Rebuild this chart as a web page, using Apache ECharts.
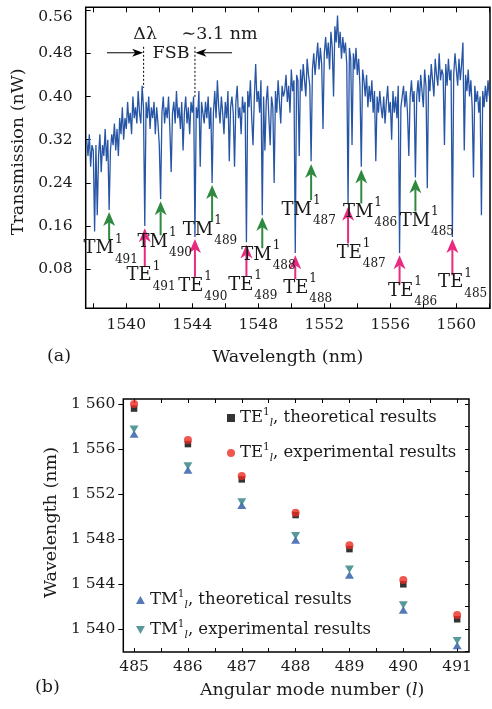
<!DOCTYPE html>
<html><head><meta charset="utf-8">
<script src="https://cdn.jsdelivr.net/npm/echarts@6/dist/echarts.min.js"></script>
<style>html,body{margin:0;padding:0;background:#fff}#c{width:492px;height:709px}</style>
</head><body><div id="c"></div>
<script>
// ================= DATA =================
// (a) transmission spectrum, sampled every 0.08 nm from 1537.60 nm
const specStart = 1537.60;
const specStep = 0.08;
const specValues = [
  0.32,0.29,0.33,0.27,0.31,0.30,0.15,0.31,0.18,0.29,
  0.33,0.26,0.31,0.29,0.34,0.28,0.32,0.19,0.30,0.33,
  0.31,0.35,0.30,0.34,0.29,0.36,0.33,0.38,0.32,0.36,
  0.34,0.39,0.35,0.37,0.33,0.40,0.36,0.38,0.35,0.41,
  0.37,0.35,0.42,0.38,0.16,0.39,0.36,0.40,0.34,0.38,
  0.36,0.39,0.33,0.38,0.35,0.31,0.21,0.37,0.40,0.35,
  0.38,0.36,0.40,0.34,0.26,0.37,0.39,0.35,0.41,0.36,
  0.38,0.34,0.39,0.30,0.37,0.40,0.35,0.38,0.33,0.39,
  0.37,0.40,0.14,0.38,0.36,0.41,0.27,0.39,0.37,0.35,
  0.39,0.36,0.40,0.34,0.38,0.24,0.37,0.41,0.36,0.43,
  0.38,0.35,0.40,0.37,0.33,0.39,0.36,0.41,0.28,0.38,
  0.40,0.37,0.27,0.39,0.42,0.36,0.38,0.33,0.40,0.37,
  0.39,0.13,0.41,0.38,0.43,0.36,0.31,0.40,0.46,0.39,
  0.41,0.37,0.43,0.18,0.40,0.30,0.39,0.42,0.36,0.31,
  0.40,0.38,0.24,0.41,0.37,0.43,0.39,0.35,0.42,0.40,
  0.41,0.44,0.39,0.42,0.37,0.45,0.41,0.43,0.11,0.44,
  0.43,0.29,0.45,0.41,0.46,0.43,0.40,0.47,0.44,0.42,
  0.28,0.45,0.48,0.44,0.47,0.50,0.45,0.49,0.46,0.34,
  0.48,0.51,0.47,0.50,0.45,0.52,0.49,0.40,0.53,0.50,
  0.55,0.49,0.52,0.47,0.51,0.48,0.50,0.46,0.20,0.49,
  0.47,0.31,0.48,0.45,0.49,0.44,0.47,0.42,0.27,0.45,
  0.43,0.40,0.44,0.38,0.42,0.39,0.43,0.37,0.41,0.28,
  0.40,0.37,0.41,0.38,0.36,0.40,0.35,0.39,0.42,0.37,
  0.39,0.32,0.41,0.37,0.40,0.36,0.42,0.11,0.38,0.40,
  0.42,0.38,0.41,0.37,0.29,0.40,0.43,0.39,0.41,0.25,
  0.40,0.43,0.39,0.44,0.41,0.38,0.45,0.42,0.23,0.44,
  0.41,0.46,0.43,0.40,0.47,0.44,0.42,0.48,0.43,0.45,
  0.44,0.31,0.46,0.42,0.47,0.43,0.45,0.14,0.44,0.48,
  0.45,0.42,0.47,0.43,0.46,0.50,0.30,0.44,0.41,0.45,
  0.40,0.43,0.38,0.25,0.42,0.39,0.41,0.37,0.40,0.18,
  0.41,0.38,0.42,0.39,0.43,0.40
];
const xTicksA = [1540, 1544, 1548, 1552, 1556, 1560];
const yTicksA = [0.08, 0.16, 0.24, 0.32, 0.40, 0.48, 0.56];

// resonance dips marked in (a), mode order 485..491
const modeNumbers = [485, 486, 487, 488, 489, 490, 491];
const teDipNm = [1559.76, 1556.56, 1553.44, 1550.24, 1547.28, 1544.16, 1541.12];
const tmDipNm = [1557.52, 1554.24, 1551.20, 1548.24, 1545.20, 1542.08, 1538.96];
const fsbEndsNm = [1541.05, 1544.16];
const fsbText = '\u223C3.1 nm';

// (b) resonance wavelength vs angular mode number
const xTicksB = [485, 486, 487, 488, 489, 490, 491];
const yTicksB = [1540, 1544, 1548, 1552, 1556, 1560];
const teTheory = [1559.60, 1556.44, 1553.30, 1550.13, 1547.10, 1543.97, 1540.86];
const teExp    = [1560.00, 1556.80, 1553.60, 1550.34, 1547.45, 1544.36, 1541.24];
const tmTheory = [1557.33, 1554.13, 1551.00, 1547.90, 1544.80, 1541.69, 1538.52];
const tmExp    = [1557.75, 1554.49, 1551.30, 1548.29, 1545.30, 1542.13, 1538.96];

// ================= LAYOUT (annotation placement, not data) =================
// per mode 485..491: [arrow tip value, arrow tail value, label anchor nm, label anchor value]
const tmNoteLayout = [
  [0.247, 0.187, 1558.41, 0.169],
  [0.265, 0.202, 1554.97, 0.186],
  [0.275, 0.208, 1551.25, 0.190],
  [0.177, 0.119, 1548.81, 0.106],
  [0.236, 0.168, 1545.27, 0.153],
  [0.206, 0.143, 1542.53, 0.130],
  [0.186, 0.134, 1539.25, 0.118]
];
const teNoteLayout = [
  [0.136, 0.069, 1560.42, 0.055],
  [0.106, 0.052, 1557.39, 0.040],
  [0.196, 0.128, 1554.27, 0.110],
  [0.106, 0.062, 1551.03, 0.045],
  [0.126, 0.066, 1547.70, 0.051],
  [0.136, 0.066, 1544.67, 0.049],
  [0.156, 0.084, 1541.54, 0.068]
];

const FONT = 'DejaVu Serif';
const INK = '#1a1a1a';
const GREEN = '#2f8a40';
const PINK = '#e82a80';

// ================= BUILD =================
const spectrum = specValues.map((v, i) => [+(specStart + i * specStep).toFixed(2), v]);

// arrows: [x0,y0,x1,y1,kind]  kind 0 green,1 pink,2 black arrow,3 dotted line
const arrowData = [];
modeNumbers.forEach((m, k) => {
  arrowData.push([tmDipNm[k], tmNoteLayout[k][1], tmDipNm[k], tmNoteLayout[k][0], 0]);
  arrowData.push([teDipNm[k], teNoteLayout[k][1], teDipNm[k], teNoteLayout[k][0], 1]);
});
arrowData.push([1538.83, 0.481, fsbEndsNm[0] - 0.03, 0.481, 2]);
arrowData.push([1546.41, 0.481, fsbEndsNm[1] + 0.03, 0.481, 2]);
arrowData.push([fsbEndsNm[0], 0.492, fsbEndsNm[0], 0.416, 3]);
arrowData.push([fsbEndsNm[1], 0.492, fsbEndsNm[1], 0.399, 3]);

const labelItems = [];
modeNumbers.forEach((m, k) => {
  labelItems.push({value: [tmNoteLayout[k][2], tmNoteLayout[k][3]], main: 'TM', sub: String(m)});
  labelItems.push({value: [teNoteLayout[k][2], teNoteLayout[k][3]], main: 'TE', sub: String(m)});
});

const noteItems = [
  {value: [1541.14, 0.514], text: '\u0394\u03BB', align: 'center'},
  {value: [1542.71, 0.480], text: 'FSB', align: 'center'},
  {value: [1543.35, 0.514], text: fsbText, align: 'left'}
];

function arrowEls(p0, p1, color, lw, hl, hw) {
  const dx = p1[0] - p0[0], dy = p1[1] - p0[1];
  const len = Math.hypot(dx, dy) || 1;
  const ux = dx / len, uy = dy / len, nx = -uy, ny = ux;
  const bx = p1[0] - ux * hl, by = p1[1] - uy * hl;
  const notch = [p1[0] - ux * hl * 0.72, p1[1] - uy * hl * 0.72];
  return [
    {type: 'line', shape: {x1: p0[0], y1: p0[1], x2: notch[0], y2: notch[1]}, style: {stroke: color, lineWidth: lw}},
    {type: 'polygon', shape: {points: [p1, [bx + nx * hw, by + ny * hw], notch, [bx - nx * hw, by - ny * hw]]}, style: {fill: color}}
  ];
}

const legendNames = {
  'TE_theo': ['TE', ', theoretical results'],
  'TE_exp': ['TE', ', experimental results'],
  'TM_theo': ['TM', ', theoretical results'],
  'TM_exp': ['TM', ', experimental results']
};
const legendRich = {
  t: {fontFamily: FONT, fontSize: 16.5, color: INK, lineHeight: 22},
  sup: {fontFamily: FONT, fontSize: 10.5, color: INK, verticalAlign: 'top', lineHeight: 12},
  sub: {fontFamily: FONT, fontSize: 10.5, fontStyle: 'italic', color: INK, verticalAlign: 'bottom', lineHeight: 12}
};
function legendFmt(name) {
  const p = legendNames[name];
  return '{t|' + p[0] + '}{sup|1}{sub|l}{t|' + p[1] + '}';
}

const tickFont = {fontFamily: FONT, fontSize: 15.5, color: INK};
const nameFont = {fontFamily: FONT, fontSize: 17.5, color: INK};
const blk = {color: '#000', width: 1};

const minorA = []; for (let v = 1538; v <= 1562; v += 2) minorA.push(v);
const halfB = []; for (let v = 485; v <= 491; v += 0.5) halfB.push(v);
const rightB = []; for (let v = 1538; v <= 1560; v += 2) rightB.push(v);

const option = {
  animation: false,
  backgroundColor: '#fff',
  grid: [
    {left: 85.7, top: 7.3, right: 2, bottom: 400.7, show: true, borderColor: '#000', borderWidth: 1.5, backgroundColor: 'transparent'},
    {left: 123.3, top: 399, right: 23, bottom: 57, show: true, borderColor: '#000', borderWidth: 1.5, backgroundColor: 'transparent'}
  ],
  xAxis: [
    {gridIndex: 0, type: 'value', min: 1537.54, max: 1562.04, position: 'bottom',
     axisLine: {show: false}, splitLine: {show: false},
     axisTick: {inside: true, length: 5, lineStyle: blk, customValues: minorA},
     axisLabel: Object.assign({margin: 9, customValues: xTicksA, formatter: v => String(Math.round(v))}, tickFont),
     name: 'Wavelength (nm)', nameLocation: 'middle', nameGap: 40, nameTextStyle: nameFont},
    {gridIndex: 0, type: 'value', min: 1537.54, max: 1562.04, position: 'top',
     axisLine: {show: false}, splitLine: {show: false}, axisLabel: {show: false},
     axisTick: {inside: true, length: 5, lineStyle: blk, customValues: minorA}},
    {gridIndex: 1, type: 'value', min: 484.8, max: 491.22, position: 'bottom',
     axisLine: {show: false}, splitLine: {show: false},
     axisTick: {inside: true, length: 4, lineStyle: blk, customValues: halfB},
     axisLabel: Object.assign({margin: 7, customValues: xTicksB, formatter: v => String(Math.round(v))}, tickFont),
     name: 'Angular mode number ({i|l})', nameLocation: 'middle', nameGap: 29,
     nameTextStyle: Object.assign({padding: [0, 0, 0, 32], rich: {i: {fontFamily: FONT, fontSize: 17.5, fontStyle: 'italic', color: INK}}}, nameFont)},
    {gridIndex: 1, type: 'value', min: 484.8, max: 491.22, position: 'top',
     axisLine: {show: false}, splitLine: {show: false}, axisLabel: {show: false},
     axisTick: {inside: true, length: 4, lineStyle: blk, customValues: halfB}}
  ],
  yAxis: [
    {gridIndex: 0, type: 'value', min: 0.0078, max: 0.5652,
     axisLine: {show: false}, splitLine: {show: false},
     axisTick: {inside: true, length: 5, lineStyle: blk, customValues: yTicksA},
     axisLabel: Object.assign({margin: 13, customValues: yTicksA,
       formatter: v => Math.abs(v - 0.56) < 1e-6 ? '{top|0.56}' : v.toFixed(2),
       rich: {top: {fontFamily: FONT, fontSize: 15.5, color: INK, padding: [14, 0, 0, 0]}}}, tickFont),
     name: 'Transmission (nW)', nameLocation: 'middle', nameGap: 55, nameRotate: 90,
     nameTextStyle: Object.assign({padding: [0, 0, 0, 12]}, nameFont)},
    {gridIndex: 1, type: 'value', min: 1537.95, max: 1560.45,
     axisLine: {show: false}, splitLine: {show: false},
     axisTick: {inside: false, length: 5, lineStyle: blk, customValues: yTicksB},
     axisLabel: Object.assign({margin: 8, customValues: yTicksB,
       formatter: v => String(Math.round(v)).replace(/^(\d)(\d{3})$/, '$1 $2')}, tickFont),
     name: 'Wavelength (nm)', nameLocation: 'middle', nameGap: 58, nameRotate: 90,
     nameTextStyle: Object.assign({padding: [0, 0, 0, 6]}, nameFont)},
    {gridIndex: 1, type: 'value', min: 1537.95, max: 1560.45, position: 'right',
     axisLine: {show: false}, splitLine: {show: false}, axisLabel: {show: false},
     axisTick: {inside: true, length: 4, lineStyle: blk, customValues: rightB}}
  ],
  legend: [
    {data: ['TE_theo', 'TE_exp'], orient: 'vertical', left: 227, top: 407, padding: 0,
     itemWidth: 8, itemHeight: 8, itemGap: 13, formatter: legendFmt,
     textStyle: {fontFamily: FONT, fontSize: 16.5, color: INK, rich: legendRich}},
    {data: ['TM_theo', 'TM_exp'], orient: 'vertical', left: 136, top: 589, padding: 0,
     itemWidth: 9, itemHeight: 8, itemGap: 8, formatter: legendFmt,
     textStyle: {fontFamily: FONT, fontSize: 16.5, color: INK, rich: legendRich}}
  ],
  graphic: [
    {type: 'text', left: 47, top: 347, style: {text: '(a)', fontFamily: FONT, fontSize: 17.5, fill: INK}},
    {type: 'text', left: 35, top: 678, style: {text: '(b)', fontFamily: FONT, fontSize: 17.5, fill: INK}}
  ],
  series: [
    {type: 'line', xAxisIndex: 0, yAxisIndex: 0, data: spectrum, showSymbol: false, symbol: 'none',
     lineStyle: {color: '#2755a5', width: 1.3}, z: 2, silent: true},
    {type: 'custom', xAxisIndex: 0, yAxisIndex: 0, data: arrowData, encode: {x: [0, 2], y: [1, 3]}, z: 4, silent: true,
     renderItem: (params, api) => {
       const p0 = api.coord([api.value(0), api.value(1)]);
       const p1 = api.coord([api.value(2), api.value(3)]);
       const kind = api.value(4);
       if (kind === 3) {
         return {type: 'line', shape: {x1: p0[0], y1: p0[1], x2: p1[0], y2: p1[1]},
                 style: {stroke: '#000', lineWidth: 1, lineDash: [2, 2]}};
       }
       const col = kind === 0 ? GREEN : kind === 1 ? PINK : '#000';
       const els = kind === 2 ? arrowEls(p0, p1, col, 1, 11, 4) : arrowEls(p0, p1, col, 2, 14, 6);
       return {type: 'group', children: els};
     }},
    {type: 'custom', xAxisIndex: 0, yAxisIndex: 0, data: labelItems.map(d => d.value), z: 5, silent: true,
     renderItem: (params, api) => {
       const it = labelItems[params.dataIndex];
       const p = api.coord(it.value);
       return {type: 'group', children: [
         {type: 'text', x: p[0], y: p[1], style: {text: it.main, fontFamily: FONT, fontSize: 18, fill: INK, align: 'right', verticalAlign: 'middle'}},
         {type: 'text', x: p[0] + 1, y: p[1] + 1, style: {text: '1\n' + it.sub, fontFamily: FONT, fontSize: 12, lineHeight: 20, fill: INK, align: 'left', verticalAlign: 'middle'}}
       ]};
     }},
    {type: 'custom', xAxisIndex: 0, yAxisIndex: 0, data: noteItems.map(d => d.value), z: 5, silent: true,
     renderItem: (params, api) => {
       const it = noteItems[params.dataIndex];
       const p = api.coord(it.value);
       return {type: 'text', x: p[0], y: p[1], style: {text: it.text, fontFamily: FONT, fontSize: 17.5, fill: INK, align: it.align, verticalAlign: 'middle'}};
     }},
    {name: 'TE_theo', type: 'scatter', xAxisIndex: 2, yAxisIndex: 1, symbol: 'rect', symbolSize: 6.5,
     itemStyle: {color: '#000'}, data: modeNumbers.map((m, k) => [m, teTheory[k]]), z: 3},
    {name: 'TE_exp', type: 'scatter', xAxisIndex: 2, yAxisIndex: 1, symbol: 'circle', symbolSize: 8,
     itemStyle: {color: '#ec2b22'}, data: modeNumbers.map((m, k) => [m, teExp[k]]), z: 4},
    {name: 'TM_theo', type: 'scatter', xAxisIndex: 2, yAxisIndex: 1, symbol: 'path://M5,0 L10,9 L0,9 Z', symbolSize: [9, 7.5],
     itemStyle: {color: '#2a57a5'}, data: modeNumbers.map((m, k) => [m, tmTheory[k]]), z: 3},
    {name: 'TM_exp', type: 'scatter', xAxisIndex: 2, yAxisIndex: 1, symbol: 'path://M0,0 L10,0 L5,9 Z', symbolSize: [9, 7.5],
     itemStyle: {color: '#2e8183'}, data: modeNumbers.map((m, k) => [m, tmExp[k]]), z: 4}
  ]
};

const chart = echarts.init(document.getElementById('c'));
chart.setOption(option);
</script>
</body></html>
